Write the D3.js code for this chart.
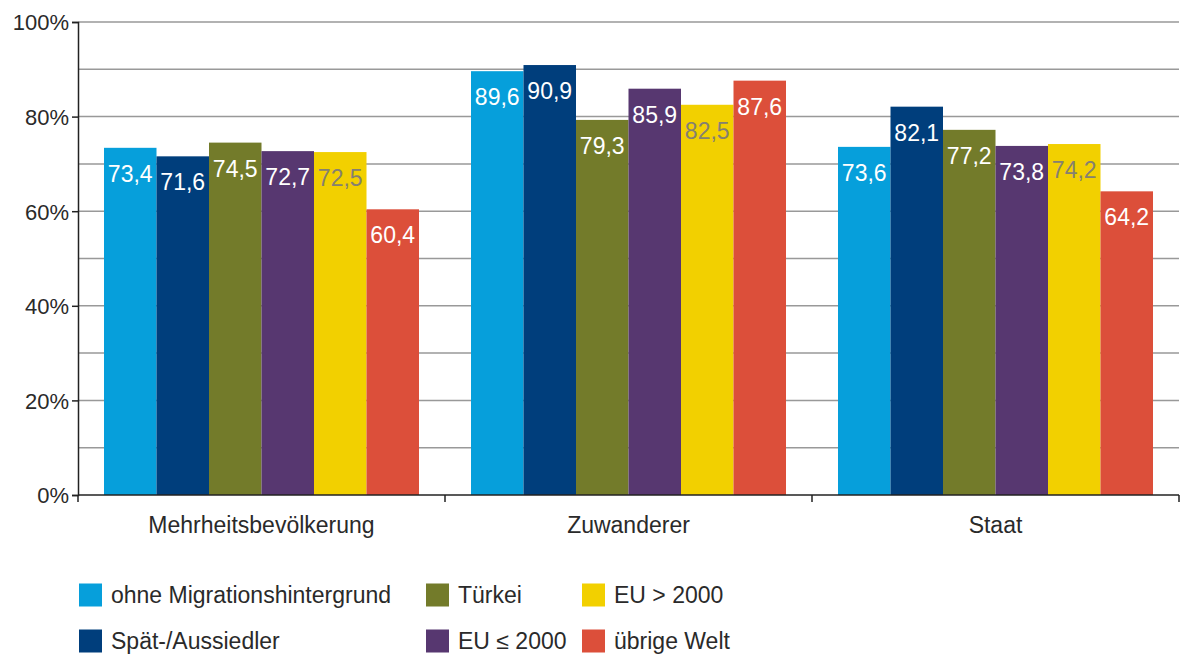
<!DOCTYPE html>
<html>
<head>
<meta charset="utf-8">
<script src="https://cdn.jsdelivr.net/npm/d3@7"></script>
<style>
  body { margin: 0; background: #fff; }
  text { font-family: "Liberation Sans", Arial, sans-serif; }
</style>
</head>
<body>
<div id="chart"></div>
<script>
const W = 1182, H = 657;
const margin = {top: 22, right: 3, bottom: 162, left: 78};

// data
const groups = ["Mehrheitsbevölkerung", "Zuwanderer", "Staat"];
const seriesNames = ["ohne Migrationshintergrund", "Spät-/Aussiedler", "Türkei", "EU ≤ 2000", "EU > 2000", "übrige Welt"];
const seriesColors = ["#069fdb", "#003e7c", "#737b2a", "#573770", "#f2d000", "#dc4f3a"];
const valMehrheit = [73.4, 71.6, 74.5, 72.7, 72.5, 60.4];
const valZuwanderer = [89.6, 90.9, 79.3, 85.9, 82.5, 87.6];
const valStaat = [73.6, 82.1, 77.2, 73.8, 74.2, 64.2];
const yTicks = [0, 20, 40, 60, 80, 100];
const yGrid = [10, 20, 30, 40, 50, 60, 70, 80, 90, 100];

const values = [valMehrheit, valZuwanderer, valStaat];
const w = W - margin.left - margin.right, h = H - margin.top - margin.bottom;

const svg = d3.select("#chart").append("svg")
    .attr("width", W).attr("height", H)
  .append("g")
    .attr("transform", `translate(${margin.left},${margin.top})`);

const x0 = d3.scaleBand().domain(groups).range([0, w]).paddingInner(0).paddingOuter(0);
const x1 = d3.scaleBand().domain(d3.range(6)).range([26, x0.bandwidth() - 26]).padding(0);
const y = d3.scaleLinear().domain([0, 100]).range([h, 0]);

// grid lines
svg.append("g").selectAll("line").data(yGrid).enter().append("line")
    .attr("x1", 0).attr("x2", w)
    .attr("y1", d => y(d)).attr("y2", d => y(d))
    .attr("stroke", "#999").attr("stroke-width", 1.5);

// y axis ticks + labels
const yAxis = svg.append("g")
    .call(d3.axisLeft(y).tickValues(yTicks).tickSize(6).tickFormat(d => d + "%"));
yAxis.select(".domain").attr("stroke", "#222").attr("stroke-width", 1.5);
yAxis.selectAll(".tick line").attr("stroke", "#222").attr("stroke-width", 1.5);
yAxis.selectAll(".tick text")
    .attr("x", -9).attr("dy", "0.36em")
    .style("font-size", "22px").attr("fill", "#2a2a2a")
    .style("font-family", "'Liberation Sans', sans-serif");

// bars
const g = svg.append("g").selectAll("g").data(groups).enter().append("g")
    .attr("transform", d => `translate(${x0(d)},0)`);

g.selectAll("rect").data((d, i) => values[i]).enter().append("rect")
    .attr("x", (d, i) => x1(i))
    .attr("width", x1.bandwidth())
    .attr("y", d => y(d))
    .attr("height", d => h - y(d))
    .attr("fill", (d, i) => seriesColors[i]);

g.selectAll("text.val").data((d, i) => values[i]).enter().append("text")
    .attr("class", "val")
    .attr("x", (d, i) => x1(i) + x1.bandwidth() / 2)
    .attr("y", d => y(d) + 34)
    .attr("text-anchor", "middle")
    .style("font-size", "23px")
    .attr("fill", (d, i) => i === 4 ? "#858070" : "#fff")
    .text(d => d.toFixed(1).replace(".", ","));

// x axis
svg.append("line")
    .attr("x1", 0).attr("x2", w).attr("y1", h).attr("y2", h)
    .attr("stroke", "#222").attr("stroke-width", 1.5);
svg.append("g").selectAll("line").data([0, 1, 2, 3]).enter().append("line")
    .attr("x1", d => d * x0.bandwidth()).attr("x2", d => d * x0.bandwidth())
    .attr("y1", h).attr("y2", h + 7)
    .attr("stroke", "#222").attr("stroke-width", 1.5);
svg.append("g").selectAll("text").data(groups).enter().append("text")
    .attr("x", d => x0(d) + x0.bandwidth() / 2)
    .attr("y", h + 38)
    .attr("text-anchor", "middle")
    .style("font-size", "23px").attr("fill", "#2a2a2a")
    .text(d => d);

// legend
const legendOrder = [0, 2, 4, 1, 3, 5];
const colX = [79, 426, 582];
const rowY = [595, 641];
const legend = d3.select("svg").append("g").selectAll("g").data(legendOrder).enter().append("g")
    .attr("transform", (d, k) => `translate(${colX[k % 3]},${rowY[Math.floor(k / 3)]})`);
legend.append("rect")
    .attr("x", 0).attr("y", -11.5).attr("width", 23).attr("height", 23)
    .attr("fill", d => seriesColors[d]);
legend.append("text")
    .attr("x", 32).attr("y", 0).attr("dy", "0.36em")
    .style("font-size", "23px").attr("fill", "#2a2a2a")
    .text(d => seriesNames[d]);
</script>
</body>
</html>
